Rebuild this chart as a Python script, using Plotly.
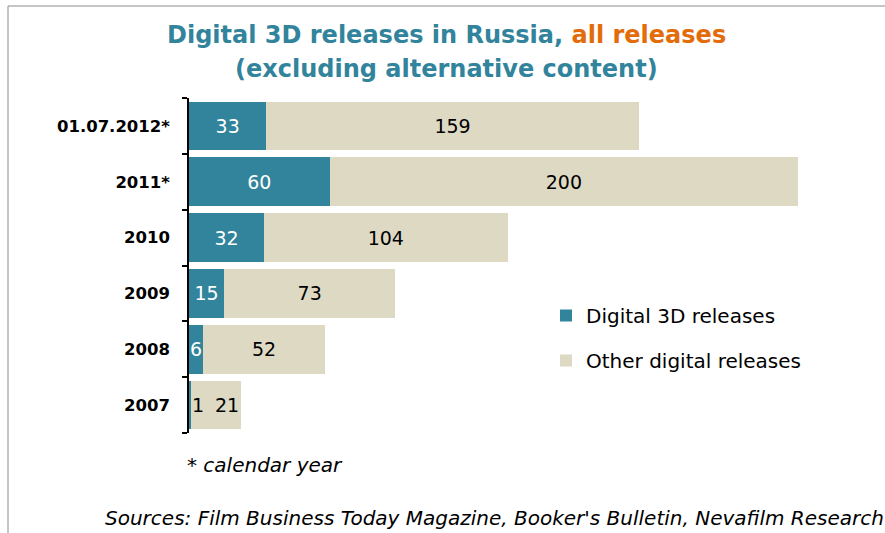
import plotly.graph_objects as go

# Release counts by period (top row first)
periods = ["01.07.2012*", "2011*", "2010", "2009", "2008", "2007"]
releases_3d = [33, 60, 32, 15, 6, 1]
releases_other = [159, 200, 104, 73, 52, 21]

TEAL = "#31849B"
TAN = "#DDD9C3"
ORANGE = "#E36C0A"
FONT = "DejaVu Sans"

W, H = 885, 533
ML, MR, MT, MB = 189, 40, 98, 100
PW, PH = W - ML - MR, H - MT - MB


def px_x(x):
    return (x - ML) / PW


def px_y(y):
    return (H - MB - y) / PH


# Category order bottom-to-top on the axis
axis_order = periods[::-1]

# Rows whose bars are too narrow for centred labels get labels beside the bars
narrow = [v < 3 for v in releases_3d]
LABEL_SIZE = 19

fig = go.Figure()
fig.add_trace(go.Bar(
    y=periods, x=releases_3d, orientation="h", name="Digital 3D releases",
    marker=dict(color=TEAL, line=dict(width=0)),
    text=["" if n else str(v) for v, n in zip(releases_3d, narrow)],
    textposition="inside", insidetextanchor="middle", constraintext="none",
    textangle=0, textfont=dict(color="white", size=LABEL_SIZE, family=FONT),
    legendgroup="a",
))
fig.add_trace(go.Bar(
    y=periods, x=releases_other, orientation="h", name="Other digital releases",
    marker=dict(color=TAN, line=dict(width=0)),
    text=["" if n else str(v) for v, n in zip(releases_other, narrow)],
    textposition="inside", insidetextanchor="middle", constraintext="none",
    textangle=0, textfont=dict(color="black", size=LABEL_SIZE, family=FONT),
    legendgroup="b",
))

annotations = []
for p, a, b, n in zip(periods, releases_3d, releases_other, narrow):
    if n:
        row = axis_order.index(p)  # category index on the y axis
        annotations.append(dict(x=a, y=row, xref="x", yref="y", text=str(a),
                                xanchor="left", xshift=-1, showarrow=False,
                                font=dict(size=LABEL_SIZE, color="black", family=FONT)))
        annotations.append(dict(x=a + b, y=row, xref="x", yref="y", text=str(b),
                                xanchor="right", xshift=0, showarrow=False,
                                font=dict(size=LABEL_SIZE, color="black", family=FONT)))

annotations += [
    dict(x=px_x(446), y=px_y(35), xref="paper", yref="paper",
         text=f"<b>Digital 3D releases in Russia, <span style='color:{ORANGE}'>all releases</span></b>",
         showarrow=False, xanchor="center", yanchor="middle",
         font=dict(size=24, color=TEAL, family=FONT)),
    dict(x=px_x(446), y=px_y(69), xref="paper", yref="paper",
         text="<b>(excluding alternative content)</b>",
         showarrow=False, xanchor="center", yanchor="middle",
         font=dict(size=24, color=TEAL, family=FONT)),
    dict(x=px_x(185), y=px_y(465), xref="paper", yref="paper",
         text="<i>* calendar year</i>", showarrow=False,
         xanchor="left", yanchor="middle",
         font=dict(size=20, color="black", family=FONT)),
    dict(x=px_x(103), y=px_y(518), xref="paper", yref="paper",
         text="<i>Sources: Film Business Today Magazine, Booker's Bulletin, Nevafilm Research</i>",
         showarrow=False, xanchor="left", yanchor="middle",
         font=dict(size=20, color="black", family=FONT)),
]

fig.update_layout(
    width=W, height=H,
    margin=dict(l=ML, r=MR, t=MT, b=MB),
    paper_bgcolor="white", plot_bgcolor="white",
    barmode="stack", bargap=0.13,
    font=dict(family=FONT, color="black"),
    showlegend=True,
    legend=dict(x=px_x(546), y=px_y(296), xanchor="left", yanchor="top",
                font=dict(size=20, family=FONT, color="black"),
                tracegroupgap=16, traceorder="grouped",
                bgcolor="rgba(0,0,0,0)"),
    annotations=annotations,
    shapes=[dict(type="rect", xref="paper", yref="paper",
                 x0=px_x(8), y0=px_y(560), x1=px_x(900), y1=px_y(6),
                 line=dict(color="#8C8C8C", width=1), layer="below")],
)
fig.update_xaxes(range=[0, 280], visible=False, showgrid=False, zeroline=False)
fig.update_yaxes(
    type="category",
    categoryorder="array", categoryarray=axis_order,
    range=[-0.5, len(periods) - 0.5],
    showline=True, linecolor="black", linewidth=1.5,
    ticks="outside", tickson="boundaries", ticklen=5, tickcolor="black",
    tickwidth=1.5, showgrid=False, zeroline=False,
    tickfont=dict(size=16.5, family=FONT, color="black", weight="bold"),
    ticklabelstandoff=14,
)

fig.write_html("out.html")
